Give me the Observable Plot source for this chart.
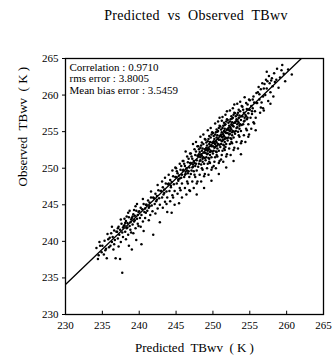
<!DOCTYPE html>
<html><head><meta charset="utf-8">
<script src="https://cdn.jsdelivr.net/npm/d3@7"></script>
<script src="https://cdn.jsdelivr.net/npm/@observablehq/plot@0.6"></script>
<style>
body{margin:0;background:#fff;width:334px;height:357px;overflow:hidden;font-family:"Liberation Serif",serif;}
#title{height:30px;line-height:32px;font-size:14px;text-align:center;padding-left:58px;box-sizing:border-box;color:#000;letter-spacing:0.3px;}
</style></head><body>
<div id="title">Predicted&nbsp; vs&nbsp; Observed&nbsp; TBwv</div>
<div id="chart"></div>
<script>
const xLabel = "Predicted  TBwv  ( K )";
const yLabel = "Observed  TBwv  ( K )";
const xTicks = [230, 235, 240, 245, 250, 255, 260, 265];
const yTicks = [230, 235, 240, 245, 250, 255, 260, 265];
const statsLines = ["Correlation : 0.9710", "rms error : 3.8005", "Mean bias error : 3.5459"];
const fitLine = [[230, 234.1], [262, 265]];
// [predicted, observed] pairs
const pairs = [
[234.2,239.1],[234.5,238.1],[234.7,239.4],[234.4,237.6],[234.9,238.5],[234.6,239.9],
[235.0,239.4],[235.2,238.2],[235.3,240.1],[235.5,239.0],[235.6,237.7],[235.8,240.3],[235.9,239.2],[235.4,238.8],[235.7,241.0],
[236.0,240.5],[236.1,239.4],[236.2,241.1],[236.3,239.9],[236.4,240.6],[236.5,238.9],[236.6,241.5],[236.7,240.2],[236.8,237.7],[236.9,241.3],[236.3,242.0],[236.6,239.6],
[237.0,241.3],[237.1,240.4],[237.2,242.0],[237.3,240.9],[237.4,241.6],[237.5,239.9],[237.6,242.4],[237.7,241.2],[237.8,240.6],[237.9,242.1],[237.2,239.3],[237.5,243.0],[237.8,241.9],[237.1,241.8],[237.7,235.7],[237.4,237.6],
[238.0,242.2],[238.1,241.3],[238.2,242.8],[238.3,241.8],[238.4,242.5],[238.5,240.9],[238.6,243.3],[238.7,242.1],[238.8,241.6],[238.9,243.0],[238.2,240.3],[238.5,243.9],[238.8,242.6],[238.1,242.5],[238.6,239.4],[238.3,243.4],[238.9,241.2],[238.4,241.9],[238.7,244.2],[238.0,243.1],
[239.0,243.2],[239.1,242.3],[239.2,243.7],[239.3,242.7],[239.4,243.5],[239.5,241.8],[239.6,244.2],[239.7,243.1],[239.8,242.4],[239.9,244.0],[239.2,241.1],[239.5,244.8],[239.8,243.6],[239.1,243.4],[239.6,240.2],[239.3,244.3],[239.9,242.1],[239.4,242.9],[239.7,245.1],[239.0,238.9],
[240.0,244.1],[240.1,243.2],[240.2,244.6],[240.3,243.6],[240.4,244.4],[240.5,242.7],[240.6,245.1],[240.7,244.0],[240.8,243.2],[240.9,245.0],[240.2,242.0],[240.5,245.8],[240.8,244.5],[240.3,239.6],[240.6,241.4],[240.9,243.9],
[241.0,245.0],[241.1,244.2],[241.2,245.6],[241.3,244.6],[241.4,245.3],[241.5,243.6],[241.6,246.0],[241.7,244.9],[241.8,244.1],[241.9,246.0],[241.3,242.9],[241.6,246.8],[241.9,240.9],[241.4,244.8],
[242.0,245.9],[242.1,245.1],[242.2,246.5],[242.3,245.5],[242.4,246.2],[242.5,244.5],[242.6,247.0],[242.7,245.9],[242.8,245.0],[242.9,246.9],[242.2,243.8],[242.5,247.7],[242.8,242.6],[242.4,245.7],
[243.0,246.9],[243.1,246.0],[243.2,247.4],[243.3,246.4],[243.4,247.1],[243.5,245.4],[243.6,247.9],[243.7,246.8],[243.8,246.0],[243.9,247.8],[243.2,244.6],[243.5,248.7],[243.8,244.0],[243.4,246.6],[243.1,248.2],[243.7,245.1],
[244.0,247.9],[244.1,246.9],[244.2,248.4],[244.3,247.4],[244.4,248.1],[244.5,246.3],[244.6,248.9],[244.7,247.8],[244.8,246.9],[244.9,248.8],[244.2,245.5],[244.5,249.7],[244.8,245.0],[244.3,247.6],[244.0,249.1],[244.6,246.0],[244.9,250.1],[244.4,243.9],
[245.0,248.8],[245.1,247.9],[245.2,249.3],[245.3,248.3],[245.4,249.0],[245.5,247.3],[245.6,249.8],[245.7,248.7],[245.8,247.9],[245.9,249.7],[245.2,246.5],[245.5,250.6],[245.8,246.0],[245.3,248.5],[245.0,250.0],[245.6,247.0],[245.9,251.0],[245.4,245.2],[245.1,249.6],[245.7,250.3],[245.5,248.6],[245.8,249.1],
[246.0,249.8],[246.1,248.8],[246.2,250.3],[246.3,249.2],[246.4,250.0],[246.5,248.2],[246.6,250.8],[246.7,249.6],[246.8,248.8],[246.9,250.7],[246.2,247.3],[246.5,251.6],[246.8,247.0],[246.3,249.5],[246.0,251.0],[246.6,247.9],[246.9,252.0],[246.4,246.4],[246.1,250.6],[246.7,251.3],[246.5,249.7],[246.8,250.1],[246.3,252.3],[246.9,246.9],[246.2,249.1],[246.6,249.3],
[247.0,250.7],[247.1,249.7],[247.2,251.3],[247.3,250.2],[247.4,251.0],[247.5,249.1],[247.6,251.8],[247.7,250.6],[247.8,249.7],[247.9,251.7],[247.2,248.2],[247.5,252.6],[247.8,247.9],[247.3,250.5],[247.0,252.0],[247.6,248.8],[247.9,253.0],[247.4,247.3],[247.1,251.6],[247.7,252.3],[247.5,250.7],[247.8,251.1],[247.3,253.3],[247.9,248.2],[247.2,250.1],[247.6,250.3],[247.4,249.6],[247.0,249.2],[247.7,253.6],[247.8,246.4],
[248.0,251.7],[248.1,250.6],[248.2,252.2],[248.3,251.1],[248.4,251.9],[248.5,250.0],[248.6,252.7],[248.7,251.5],[248.8,250.6],[248.9,252.6],[248.2,249.1],[248.5,253.5],[248.8,248.9],[248.3,251.5],[248.0,253.0],[248.6,249.8],[248.9,254.0],[248.4,248.2],[248.1,252.6],[248.7,253.3],[248.5,251.7],[248.8,252.1],[248.3,254.3],[248.9,249.2],[248.2,251.0],[248.6,251.3],[248.4,250.5],[248.0,250.2],[248.7,254.6],[248.8,247.3],[248.1,251.9],[248.5,252.4],[248.9,251.4],[248.3,252.8],[248.6,250.9],[248.4,253.1],
[249.0,252.6],[249.1,251.5],[249.2,253.1],[249.3,252.0],[249.4,252.8],[249.5,250.9],[249.6,253.6],[249.7,252.4],[249.8,251.5],[249.9,253.5],[249.2,250.0],[249.5,254.4],[249.8,249.8],[249.3,252.4],[249.0,253.9],[249.6,250.7],[249.9,254.9],[249.4,249.1],[249.1,253.5],[249.7,254.2],[249.5,252.6],[249.8,253.0],[249.3,255.2],[249.9,250.1],[249.2,251.9],[249.6,252.2],[249.4,251.4],[249.0,251.1],[249.7,255.5],[249.8,248.3],[249.1,252.8],[249.5,253.3],[249.9,252.3],[249.3,253.7],[249.6,251.8],[249.4,254.0],[249.2,252.5],[249.7,253.1],[249.0,252.1],[249.8,254.6],[249.5,251.3],[249.3,250.6],
[250.0,253.5],[250.1,252.4],[250.2,254.0],[250.3,252.9],[250.4,253.7],[250.5,251.8],[250.6,254.5],[250.7,253.3],[250.8,252.4],[250.9,254.4],[250.2,250.9],[250.5,255.3],[250.8,250.7],[250.3,253.3],[250.0,254.8],[250.6,251.6],[250.9,255.8],[250.4,250.0],[250.1,254.4],[250.7,255.1],[250.5,253.5],[250.8,253.9],[250.3,256.1],[250.9,251.0],[250.2,252.8],[250.6,253.1],[250.4,252.3],[250.0,252.0],[250.7,256.4],[250.8,249.2],[250.1,253.7],[250.5,254.2],[250.9,253.2],[250.3,254.6],[250.6,252.7],[250.4,254.9],[250.2,253.4],[250.7,254.0],[250.0,253.0],[250.8,255.5],[250.5,252.2],[250.3,251.5],[250.9,256.9],[250.1,250.3],[250.6,255.0],[250.4,253.0],
[251.0,254.4],[251.1,253.3],[251.2,254.9],[251.3,253.8],[251.4,254.6],[251.5,252.7],[251.6,255.4],[251.7,254.2],[251.8,253.3],[251.9,255.3],[251.2,251.8],[251.5,256.2],[251.8,251.6],[251.3,254.2],[251.0,255.7],[251.6,252.5],[251.9,256.7],[251.4,250.9],[251.1,255.3],[251.7,256.0],[251.5,254.4],[251.8,254.8],[251.3,257.0],[251.9,251.9],[251.2,253.7],[251.6,254.0],[251.4,253.2],[251.0,252.9],[251.7,257.3],[251.8,250.1],[251.1,254.6],[251.5,255.1],[251.9,254.1],[251.3,255.5],[251.6,253.6],[251.4,255.8],[251.2,254.3],[251.7,254.9],[251.0,253.9],[251.8,256.4],[251.5,253.1],[251.3,252.4],[251.9,257.8],[251.1,251.2],[251.6,255.9],[251.4,253.9],[251.7,252.9],[251.2,256.5],
[252.0,255.3],[252.1,254.2],[252.2,255.8],[252.3,254.7],[252.4,255.5],[252.5,253.6],[252.6,256.3],[252.7,255.1],[252.8,254.2],[252.9,256.2],[252.2,252.7],[252.5,257.1],[252.8,252.5],[252.3,255.1],[252.0,256.6],[252.6,253.4],[252.9,257.6],[252.4,251.8],[252.1,256.2],[252.7,256.9],[252.5,255.3],[252.8,255.7],[252.3,257.9],[252.9,252.8],[252.2,254.6],[252.6,254.9],[252.4,254.1],[252.0,253.8],[252.7,258.2],[252.8,251.0],[252.1,255.5],[252.5,256.0],[252.9,255.0],[252.3,256.4],[252.6,254.5],[252.4,256.7],[252.2,255.2],[252.7,255.8],[252.0,254.8],[252.8,257.3],[252.5,254.0],[252.3,253.3],[252.9,258.7],[252.6,256.8],
[253.0,256.2],[253.1,255.1],[253.2,256.7],[253.3,255.6],[253.4,256.4],[253.5,254.5],[253.6,257.2],[253.7,256.0],[253.8,255.1],[253.9,257.1],[253.2,253.6],[253.5,258.0],[253.8,253.4],[253.3,256.0],[253.0,257.5],[253.6,254.3],[253.9,258.5],[253.4,252.7],[253.1,257.1],[253.7,257.8],[253.5,256.2],[253.8,256.6],[253.3,258.8],[253.9,253.7],[253.2,255.5],[253.6,255.8],[253.4,255.0],[253.0,254.7],[253.7,259.1],[253.8,251.9],[253.1,256.4],[253.5,256.9],[253.9,255.9],[253.3,257.3],[253.6,255.4],[253.4,257.6],
[254.0,257.1],[254.1,256.0],[254.2,257.6],[254.3,256.5],[254.4,257.3],[254.5,255.4],[254.6,258.1],[254.7,256.9],[254.8,256.0],[254.9,258.0],[254.2,254.5],[254.5,258.9],[254.8,254.3],[254.3,256.9],[254.0,258.4],[254.6,255.2],[254.9,259.4],[254.4,253.6],[254.1,258.0],[254.7,258.7],[254.5,257.1],[254.8,257.5],[254.3,259.7],[254.9,254.6],[254.2,256.4],[254.6,256.7],
[255.0,258.0],[255.1,256.9],[255.2,258.5],[255.3,257.4],[255.4,258.2],[255.5,256.3],[255.6,259.0],[255.7,257.8],[255.8,256.9],[255.9,258.9],[255.2,255.4],[255.5,259.8],[255.8,255.2],[255.3,257.8],[255.0,259.3],[255.6,256.1],[255.9,260.3],[255.4,259.4],
[256.0,258.9],[256.1,260.4],[256.3,259.4],[256.4,257.6],[256.5,260.8],[256.6,259.0],[256.8,258.2],[256.9,260.9],[256.2,261.1],[256.7,261.6],[256.5,258.3],[256.8,259.8],[256.3,260.1],[256.9,257.9],
[257.0,261.5],[257.1,260.0],[257.2,262.1],[257.3,260.9],[257.4,261.9],[257.5,259.2],[257.6,262.6],[257.7,261.6],[257.8,260.4],[257.9,262.0],[257.3,263.2],[257.8,258.8],
[258.0,262.3],[258.1,261.2],[258.3,263.0],[258.4,261.8],[258.6,262.1],[258.7,263.6],[258.9,261.0],[258.2,259.8],
[259.1,262.4],[259.3,263.4],[259.6,262.9],[259.8,261.9],[259.4,264.1],
[260.2,263.5],[260.7,262.8]
];

const font = "Liberation Serif, serif";
const chart = Plot.plot({
  width: 334,
  height: 327,
  marginTop: 28,
  marginBottom: 43,
  marginLeft: 65,
  marginRight: 11,
  style: {fontFamily: font, fontSize: "11px", color: "#000", background: "#fff"},
  x: {domain: [230, 265], ticks: xTicks, tickSize: 0, tickPadding: 7, label: null},
  y: {domain: [230, 265], ticks: yTicks, tickSize: 3, tickPadding: 4, label: null},
  marks: [
    Plot.dot(pairs, {x: d => d[0], y: d => d[1], r: 1.25, fill: "#000", stroke: "none"}),
    Plot.line(fitLine, {x: d => d[0], y: d => d[1], stroke: "#000", strokeWidth: 1.3, clip: true}),
    Plot.ruleX(xTicks, {x: d => d, y1: 230, y2: 230.45, stroke: "#000", strokeWidth: 1}),
    Plot.frame({stroke: "#000", strokeWidth: 1.3}),
    Plot.text([statsLines.join("\n")], {frameAnchor: "top-left", dx: 4, dy: 4, text: d => d, textAnchor: "start", lineAnchor: "top", lineHeight: 1.05, fontSize: 11, fill: "#000"}),
    Plot.text([xLabel], {frameAnchor: "bottom", dy: 37, text: d => d, fontSize: 13, fill: "#000"}),
    Plot.text([yLabel], {frameAnchor: "left", dx: -43, text: d => d, rotate: -90, fontSize: 13, fill: "#000"})
  ]
});
document.getElementById("chart").appendChild(chart);
</script>
</body></html>
